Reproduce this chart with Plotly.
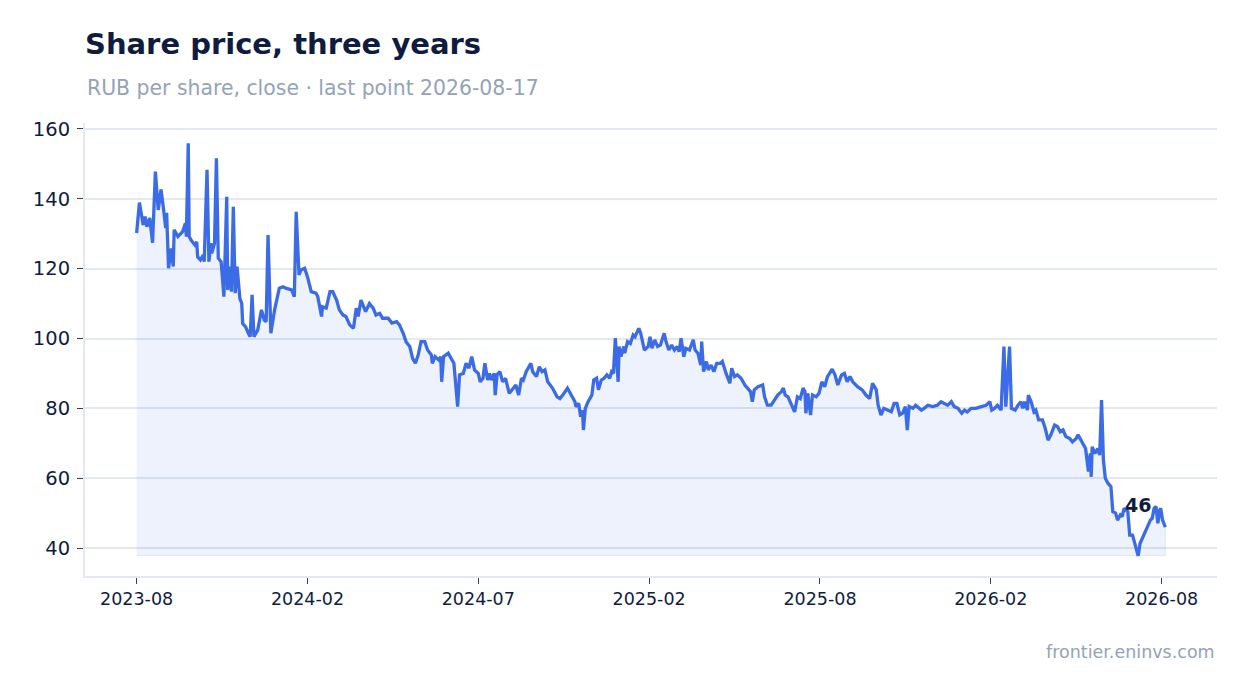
import pandas as pd
import plotly.graph_objects as go

# close prices; day = calendar days since the first point
start_date = "2023-08-17"
day = [
    0, 3, 7, 9, 11, 14, 17, 20, 23, 26, 29, 31, 32, 34, 37, 39, 40, 44, 49, 52,
    53, 55, 56, 58, 62, 64, 65, 68, 71, 72, 75, 77, 79, 80, 83, 85, 87, 90, 93, 96,
    97, 99, 101, 103, 105, 107, 110, 112, 113, 116, 119, 121, 123, 125, 129, 133, 136, 138, 140, 143,
    147, 152, 156, 159, 165, 168, 170, 173, 175, 179, 182, 186, 191, 193, 197, 198, 202, 206, 209, 213,
    216, 220, 223, 227, 231, 234, 236, 239, 244, 248, 252, 255, 259, 262, 268, 272, 277, 280, 284, 287,
    291, 294, 297, 300, 303, 307, 310, 314, 315, 318, 322, 324, 325, 327, 332, 335, 338, 342, 344, 348,
    351, 354, 357, 360, 364, 366, 369, 371, 374, 376, 378, 381, 382, 384, 387, 390, 393, 397, 401, 404,
    407, 410, 412, 415, 420, 422, 426, 429, 432, 435, 438, 443, 448, 451, 454, 459, 463, 467, 468, 471,
    473, 475, 476, 478, 481, 485, 487, 490, 492, 495, 498, 501, 504, 506, 508, 510, 513, 514, 516, 519,
    520, 523, 526, 529, 531, 535, 537, 541, 545, 547, 549, 552, 555, 558, 562, 564, 567, 570, 573, 576,
    578, 580, 583, 585, 589, 593, 595, 598, 601, 602, 604, 607, 609, 612, 615, 618, 622, 624, 628, 632,
    634, 637, 640, 644, 648, 651, 654, 656, 658, 662, 667, 669, 672, 676, 680, 683, 687, 689, 691, 694,
    697, 701, 704, 707, 710, 712, 713, 715, 718, 720, 724, 727, 730, 733, 736, 738, 741, 744, 747, 751,
    754, 757, 760, 763, 768, 773, 777, 781, 784, 788, 790, 793, 796, 800, 804, 807, 810, 813, 816, 819,
    821, 823, 827, 830, 836, 839, 843, 848, 853, 857, 861, 864, 868, 871, 875, 879, 882, 885, 889, 894,
    900, 905, 909, 911, 914, 917, 921, 924, 926, 930, 932, 936, 939, 942, 944, 946, 949, 950, 953, 956,
    958, 961, 965, 968, 971, 974, 978, 981, 984, 987, 990, 994, 997, 1001, 1003, 1006, 1009, 1011, 1014, 1016,
    1017, 1018, 1021, 1024, 1026, 1028, 1030, 1032, 1035, 1038, 1040, 1043, 1045, 1048, 1050, 1052, 1056, 1058, 1061, 1063,
    1065, 1067, 1069, 1072, 1075, 1077, 1080, 1082, 1084, 1086, 1088, 1090, 1091, 1093, 1096,
]
close = [
    130.2, 138.9, 132.5, 134.9, 132.0, 134.5, 127.4, 147.8, 136.8, 142.7, 136.3, 131.6, 136.0, 120.1, 125.8, 120.6, 131.1, 129.2, 130.6, 133.0,
    129.2, 155.9, 129.2, 128.2, 126.8, 127.7, 123.4, 122.5, 123.9, 122.0, 148.3, 122.0, 127.3, 124.4, 127.3, 151.6, 123.0, 122.0, 112.0, 140.6,
    113.9, 120.6, 113.4, 137.7, 113.0, 120.6, 111.5, 110.0, 104.3, 103.4, 101.5, 100.5, 112.5, 100.5, 102.4, 108.2, 105.3, 104.8, 129.6, 101.5,
    108.2, 114.4, 114.8, 114.4, 113.9, 112.0, 136.3, 118.2, 119.6, 120.1, 117.7, 113.4, 113.0, 112.0, 106.3, 109.1, 108.7, 113.4, 113.4, 111.0,
    108.2, 106.7, 106.3, 103.9, 102.9, 108.7, 106.3, 111.0, 107.7, 110.0, 108.7, 106.7, 107.2, 105.8, 105.8, 104.4, 104.8, 103.9, 101.5, 99.1,
    97.7, 94.3, 92.9, 95.3, 99.1, 99.1, 96.7, 95.3, 92.9, 94.8, 93.8, 94.8, 87.6, 94.8, 95.8, 94.3, 92.9, 80.5, 89.6, 90.0,
    92.9, 91.5, 94.8, 91.0, 90.0, 87.6, 88.6, 92.9, 88.1, 90.0, 88.1, 90.0, 83.8, 89.6, 90.5, 87.6, 88.6, 84.3, 85.8, 86.7,
    83.8, 88.6, 88.1, 90.5, 92.9, 90.5, 89.1, 91.9, 90.5, 91.0, 87.6, 85.8, 83.3, 82.8, 83.8, 85.8, 83.8, 81.9, 80.5, 81.4,
    77.6, 79.5, 73.8, 80.0, 81.9, 83.8, 88.1, 88.6, 85.3, 88.1, 88.6, 89.6, 88.6, 90.5, 90.0, 100.1, 87.6, 97.7, 94.8, 97.7,
    95.8, 99.1, 98.6, 101.0, 100.5, 102.9, 101.5, 96.7, 97.7, 100.5, 97.2, 99.6, 97.7, 98.1, 101.5, 99.1, 96.7, 98.1, 96.7, 97.7,
    96.2, 100.1, 94.8, 97.2, 96.7, 99.6, 96.7, 95.8, 92.4, 99.1, 90.5, 93.4, 91.0, 92.4, 90.5, 92.9, 92.9, 93.4, 90.0, 87.2,
    91.5, 89.1, 89.6, 88.6, 86.7, 85.8, 84.8, 81.9, 85.3, 86.2, 86.7, 83.3, 80.9, 80.9, 82.4, 83.8, 84.8, 85.8, 83.8, 83.3,
    81.4, 79.0, 83.3, 82.8, 85.8, 84.8, 78.6, 84.3, 78.1, 83.8, 83.3, 84.3, 87.6, 86.2, 89.1, 90.0, 91.2, 89.6, 86.7, 89.6,
    90.0, 87.6, 89.1, 87.6, 86.2, 85.3, 83.8, 82.8, 87.2, 85.3, 80.9, 78.1, 80.0, 79.5, 79.0, 81.4, 81.4, 78.1, 78.6, 80.5,
    73.8, 80.5, 80.0, 80.9, 79.5, 80.0, 80.9, 80.5, 80.9, 81.9, 81.4, 80.9, 81.9, 80.5, 80.0, 78.6, 79.5, 79.0, 80.0, 80.0,
    80.5, 80.9, 81.9, 79.5, 80.0, 80.9, 79.5, 97.7, 80.5, 97.7, 80.0, 79.5, 80.9, 81.9, 80.0, 81.9, 79.5, 83.8, 81.9, 79.0,
    79.5, 76.7, 76.7, 74.3, 70.9, 72.4, 75.2, 74.8, 73.3, 73.8, 71.9, 71.4, 70.4, 71.4, 72.4, 70.9, 69.5, 68.5, 61.9, 67.1,
    60.4, 69.0, 67.1, 68.5, 66.6, 82.4, 65.2, 60.0, 58.5, 57.6, 50.4, 50.0, 48.0, 49.5, 49.0, 51.4, 50.4, 43.7, 43.7, 41.8,
    39.9, 37.8, 41.3, 43.2, 45.2, 46.1, 48.0, 48.5, 51.4, 51.9, 47.1, 50.9, 51.4, 48.0, 46.0,
]
tick_labels = ["2023-08", "2024-02", "2024-07", "2025-02", "2025-08", "2026-02", "2026-08"]

dates = pd.Timestamp(start_date) + pd.to_timedelta(day, unit="D")
base = min(close)
tick_vals = [pd.Timestamp(start_date) + pd.Timedelta(days=182 * i) for i in range(len(tick_labels))]

LINE = "#3b6be6"
NAVY = "#0f1c3f"
GREY = "#94a3b8"

fig = go.Figure()

# shaded area under the line, down to the lowest close
fig.add_trace(go.Scatter(
    x=list(dates) + [dates[-1], dates[0]],
    y=close + [base, base],
    fill="toself",
    fillcolor="rgba(59,107,230,0.09)",
    line=dict(color="rgba(59,107,230,0.12)", width=1),
    hoverinfo="skip",
    showlegend=False,
))

fig.add_trace(go.Scatter(
    x=dates,
    y=close,
    mode="lines",
    line=dict(color=LINE, width=3.3),
    hovertemplate="%{x|%Y-%m-%d}<br>%{y:.1f} RUB<extra></extra>",
    showlegend=False,
))

fig.add_annotation(
    x=dates[-1], y=close[-1],
    text=f"<b>{close[-1]:.0f}</b>",
    showarrow=False,
    xshift=-27, yshift=22,
    font=dict(size=19, color=NAVY),
)

# page body keeps its 8px margin, so the figure is 8px smaller than the window
fig.update_layout(
    width=1239, height=685,
    margin=dict(l=77, r=30, t=115, b=117),
    paper_bgcolor="white",
    plot_bgcolor="white",
    font=dict(family="DejaVu Sans", color=NAVY),
    title=dict(
        text="<b>Share price, three years</b>",
        x=77 / 1239, xanchor="left", xref="container",
        y=1 - 36 / 685, yanchor="middle", yref="container",
        font=dict(size=29, color=NAVY),
    ),
)

fig.add_annotation(
    text="RUB per share, close · last point 2026-08-17",
    xref="paper", yref="paper", x=0, y=1 + 35 / 453,
    xanchor="left", yanchor="middle", showarrow=False,
    font=dict(size=20.4, color=GREY),
)
fig.add_annotation(
    text="frontier.eninvs.com",
    xref="paper", yref="paper", x=1, y=-76 / 453,
    xanchor="right", yanchor="middle", showarrow=False,
    font=dict(size=17.5, color=GREY),
)

fig.update_xaxes(
    range=[pd.Timestamp(start_date) - pd.Timedelta(days=55), pd.Timestamp(start_date) + pd.Timedelta(days=1151)],
    tickvals=tick_vals, ticktext=tick_labels,
    showgrid=False,
    showline=True, linecolor="#e3e8f1", linewidth=2,
    ticks="outside", ticklen=6, tickcolor="#334155", tickwidth=1,
    tickfont=dict(size=17.5, color=NAVY),
    zeroline=False,
)
fig.update_yaxes(
    range=[32, 161.7],
    tickvals=[40, 60, 80, 100, 120, 140, 160],
    showgrid=True, gridcolor="#e3e8f1", gridwidth=1.5,
    showline=True, linecolor="#e3e8f1", linewidth=2,
    ticks="outside", ticklen=6, tickcolor="#334155", tickwidth=1,
    ticklabelstandoff=3,
    tickfont=dict(size=19.5, color=NAVY),
    zeroline=False,
)

fig.write_html("out.html")
